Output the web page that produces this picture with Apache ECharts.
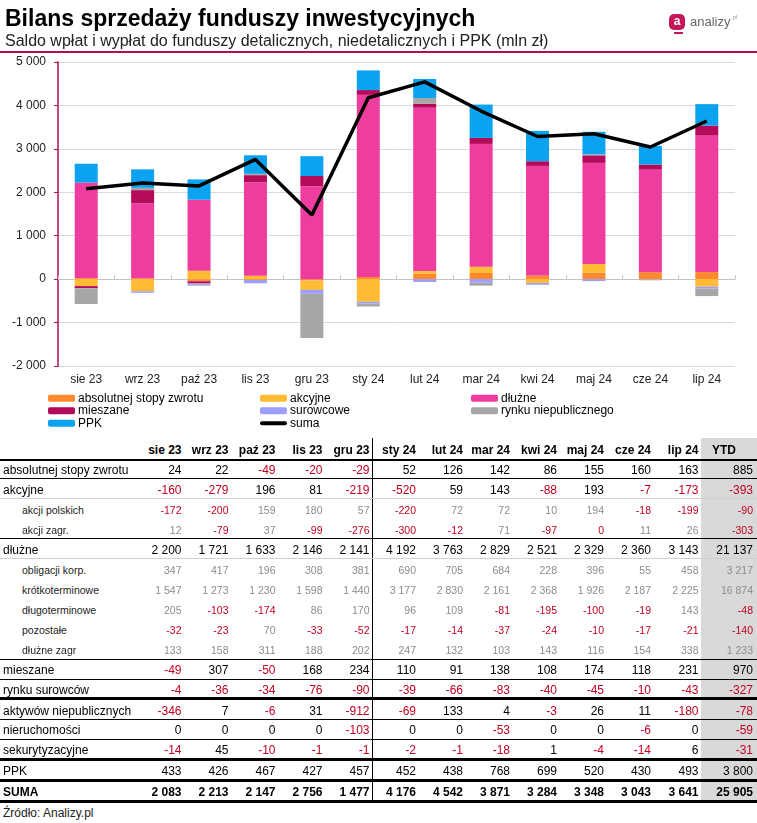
<!DOCTYPE html>
<html><head><meta charset="utf-8">
<script src="https://cdn.jsdelivr.net/npm/echarts/dist/echarts.min.js"></script>
<style>
body{margin:0;width:757px;height:823px;position:relative;background:#fff;font-family:"Liberation Sans",Arial,sans-serif;overflow:hidden}
#chart{position:absolute;left:0;top:0;width:757px;height:440px}
.t{position:absolute;white-space:nowrap}
.ln{position:absolute;left:0;width:757px}
</style></head><body>
<div id="chart"></div>
<div class="t" style="left:5px;top:5px;font-size:23px;font-weight:bold;color:#000;line-height:26px">Bilans sprzedaży funduszy inwestycyjnych</div>
<div class="t" style="left:5px;top:32px;font-size:16px;color:#222;line-height:18px">Saldo wpłat i wypłat do funduszy detalicznych, niedetalicznych i PPK (mln zł)</div>
<div style="position:absolute;left:0;top:51px;width:757px;height:2px;background:#B5095A"></div>
<div style="position:absolute;left:669px;top:14px;width:16px;height:16px;border-radius:5px;background:#C2185B;color:#fff;font-size:12px;font-weight:bold;line-height:15px;text-align:center">a</div>
<div style="position:absolute;left:674px;top:32px;width:9px;height:2px;background:#C2185B"></div>
<div class="t" style="left:690px;top:14px;font-size:13px;color:#666;line-height:16px">analizy</div>
<div class="t" style="left:733px;top:14px;font-size:5px;color:#888;line-height:6px">pl</div>
<div id="table"></div>
<script>
const months = ['sie 23','wrz 23','paź 23','lis 23','gru 23','sty 24','lut 24','mar 24','kwi 24','maj 24','cze 24','lip 24'];
const absolutnej = [24,22,-49,-20,-29,52,126,142,86,155,160,163];
const akcyjne = [-160,-279,196,81,-219,-520,59,143,-88,193,-7,-173];
const akcjiPolskich = [-172,-200,159,180,57,-220,72,72,10,194,-18,-199];
const akcjiZagr = [12,-79,37,-99,-276,-300,-12,71,-97,-0,11,26];
const dluzne = [2200,1721,1633,2146,2141,4192,3763,2829,2521,2329,2360,3143];
const obligacjiKorp = [347,417,196,308,381,690,705,684,228,396,55,458];
const krotkoterminowe = [1547,1273,1230,1598,1440,3177,2830,2161,2368,1926,2187,2225];
const dlugoterminowe = [205,-103,-174,86,170,96,109,-81,-195,-100,-19,143];
const pozostale = [-32,-23,70,-33,-52,-17,-14,-37,-24,-10,-17,-21];
const dluzneZagr = [133,158,311,188,202,247,132,103,143,116,154,338];
const mieszane = [-49,307,-50,168,234,110,91,138,108,174,118,231];
const surowcow = [-4,-36,-34,-76,-90,-39,-66,-83,-40,-45,-10,-43];
const aktywowNiepubl = [-346,7,-6,31,-912,-69,133,4,-3,26,11,-180];
const nieruchomosci = [0,0,0,0,-103,0,0,-53,0,0,-6,0];
const sekurytyzacyjne = [-14,45,-10,-1,-1,-2,-1,-18,1,-4,-14,6];
const rynkuNiepublicznego = [-360,52,-16,30,-1016,-71,132,-67,-2,22,-9,-174];
const ppk = [433,426,467,427,457,452,438,768,699,520,430,493];
const suma = [2083,2213,2147,2756,1477,4176,4542,3871,3284,3348,3043,3641];
const ytdValues = [885,-393,-90,-303,21137,3217,16874,-48,-140,1233,970,-327,-78,-59,-31,3800,25905];
const yTicks = [-2000,-1000,0,1000,2000,3000,4000,5000];

const FONT = '"Liberation Sans", Arial, sans-serif';
const fmt = v => { const s = String(Math.abs(v)).replace(/\B(?=(\d{3})+(?!\d))/g, ' '); return (v < 0 ? '-' : '') + s; };
const isNeg = v => v < 0 || Object.is(v, -0);

const barDefs = [
  ['absolutnej stopy zwrotu', absolutnej, '#FF8A2E'],
  ['akcyjne', akcyjne, '#FFBB33'],
  ['dłużne', dluzne, '#EE3D9F'],
  ['mieszane', mieszane, '#B5095A'],
  ['surowcowe', surowcow, '#9E9EFF'],
  ['rynku niepublicznego', rynkuNiepublicznego, '#A6A6A6'],
  ['PPK', ppk, '#0BA2F0']
];
const series = barDefs.map(([name, data, color]) => ({
  name, type: 'bar', stack: 'total', data, barWidth: 23,
  itemStyle: { color }, emphasis: { disabled: true }
}));
series.push({ name: 'suma', type: 'line', data: suma, symbol: 'none', z: 10,
  lineStyle: { color: '#000', width: 3.5 }, itemStyle: { color: '#000' } });

const legendBase = (left, data) => ({
  orient: 'vertical', left, top: 392, padding: 0, itemGap: 0, itemWidth: 27, itemHeight: 7,
  selectedMode: false, data, symbolKeepAspect: true,
  textStyle: { fontSize: 12, color: '#000', fontFamily: FONT, lineHeight: 12.5, padding: [0, 0, 0, -2] }
});
const lineIcon = 'path://M2,0 H25 A2,2 0 0 1 25,4 H2 A2,2 0 0 1 2,0 Z';

const chart = echarts.init(document.getElementById('chart'), null, { renderer: 'canvas' });
chart.setOption({
  animation: false,
  grid: { left: 58, top: 62, width: 677, height: 304 },
  xAxis: [
    { type: 'category', data: months, position: 'bottom',
      axisLine: { show: false, onZero: false }, axisTick: { show: false },
      axisLabel: { color: '#222', fontSize: 12, fontFamily: FONT, margin: 8 } },
    { type: 'category', data: months, position: 'top',
      axisLine: { show: true, onZero: true, lineStyle: { color: '#c4c4c4', width: 1 } },
      axisTick: { show: true, length: 4, lineStyle: { color: '#c4c4c4' } },
      axisLabel: { show: false }, splitLine: { show: false } }
  ],
  yAxis: { type: 'value', min: yTicks[0], max: yTicks[yTicks.length - 1], interval: 1000,
    axisLine: { show: true, lineStyle: { color: '#B5095A', width: 1.5 } },
    axisTick: { show: true, length: 4, lineStyle: { color: '#B5095A' } },
    axisLabel: { formatter: v => fmt(v), color: '#222', fontSize: 12, fontFamily: FONT, margin: 12 },
    splitLine: { lineStyle: { color: '#d9d9d9' } } },
  legend: [
    legendBase(48, ['absolutnej stopy zwrotu', 'mieszane', 'PPK']),
    legendBase(260, ['akcyjne', 'surowcowe', { name: 'suma', icon: lineIcon, itemStyle: { color: '#000' } }]),
    legendBase(471, ['dłużne', 'rynku niepublicznego'])
  ],
  series
});

// ---- table ----
const tableRows = [
  ['absolutnej stopy zwrotu', absolutnej, 'main'],
  ['akcyjne', akcyjne, 'main'],
  ['akcji polskich', akcjiPolskich, 'sub'],
  ['akcji zagr.', akcjiZagr, 'sub'],
  ['dłużne', dluzne, 'main'],
  ['obligacji korp.', obligacjiKorp, 'sub'],
  ['krótkoterminowe', krotkoterminowe, 'sub'],
  ['długoterminowe', dlugoterminowe, 'sub'],
  ['pozostałe', pozostale, 'sub'],
  ['dłużne zagr', dluzneZagr, 'sub'],
  ['mieszane', mieszane, 'main'],
  ['rynku surowców', surowcow, 'main'],
  ['aktywów niepublicznych', aktywowNiepubl, 'main'],
  ['nieruchomości', nieruchomosci, 'main'],
  ['sekurytyzacyjne', sekurytyzacyjne, 'main'],
  ['PPK', ppk, 'main'],
  ['SUMA', suma, 'bold']
];
const rowCY = [470,489.5,510,530,550,570,590,610,630,650,670,690,710.5,730,750,771,792];
const colRight = [181.5,228.5,275.5,322.5,369.5,416,463,510,557,604,651,698.5];
const ytdRight = 753;
const hLines = [[460,1.5,'#000'],[478.5,1,'#000'],[498.5,1,'#d0d0d0'],[538.5,1,'#000'],[558.5,1,'#d0d0d0'],
  [659,1,'#000'],[679,1,'#000'],[698.5,2.2,'#000'],[719,1,'#000'],[739,1,'#000'],[759.5,2.2,'#000'],[780.5,2.2,'#000'],[801.5,2.2,'#000']];

const tbl = document.getElementById('table');
let html = '';
html += '<div style="position:absolute;left:701px;top:438px;width:56px;height:364px;background:#d9d9d9"></div>';
html += '<div style="position:absolute;left:371.5px;top:438px;width:1.3px;height:364px;background:#000"></div>';
hLines.forEach(([y,h,c]) => { html += `<div class="ln" style="top:${y - h/2}px;height:${h}px;background:${c}"></div>`; });
const cell = (x, cy, txt, style, align) => {
  const w = 90;
  const left = align === 'right' ? x - w : x;
  html += `<div class="t" style="left:${left}px;top:${cy - 8}px;width:${w}px;height:16px;line-height:16px;text-align:${align};${style}">${txt}</div>`;
};
// header
months.forEach((m, i) => cell(colRight[i], 450, m, 'font-size:12px;font-weight:bold;color:#000', 'right'));
cell(684, 450, 'YTD', 'font-size:12px;font-weight:bold;color:#000;width:80px;text-align:center', 'left');
tableRows.forEach(([label, vals, kind], r) => {
  const cy = rowCY[r];
  const sub = kind === 'sub';
  const fs = sub ? 10.5 : 12;
  const fw = kind === 'bold' ? 'bold' : 'normal';
  cell(sub ? 22 : 3, cy, label, `font-size:${fs}px;font-weight:${fw};color:${sub ? '#222' : '#000'};width:200px`, 'left');
  const all = vals.concat([ytdValues[r]]);
  all.forEach((v, i) => {
    let col;
    if (kind === 'bold') col = '#000';
    else if (isNeg(v)) col = '#C00020';
    else col = sub ? '#8c8c8c' : '#000';
    cell(i < 12 ? colRight[i] : ytdRight, cy, fmt(v), `font-size:${fs}px;font-weight:${fw};color:${col}`, 'right');
  });
});
cell(3, 813, 'Źródło: Analizy.pl', 'font-size:12px;color:#222;width:200px', 'left');
tbl.innerHTML = html;
</script>
</body></html>
